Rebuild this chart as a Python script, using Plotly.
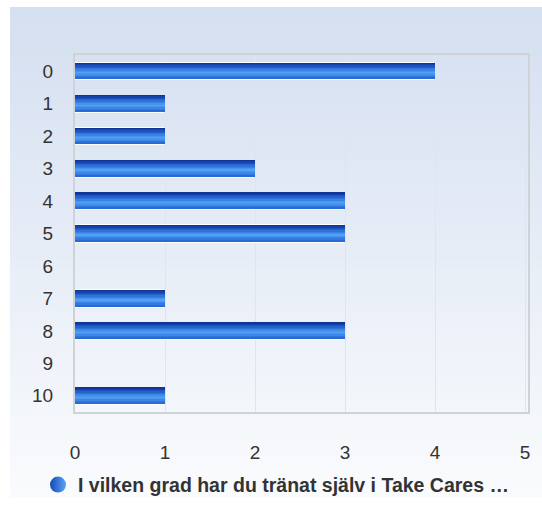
import plotly.graph_objects as go

categories = ["0", "1", "2", "3", "4", "5", "6", "7", "8", "9", "10"]
values = [4, 1, 1, 2, 3, 3, 0, 1, 3, 0, 1]
series_name = "I vilken grad har du tränat själv i Take Cares …"
x_ticks = [0, 1, 2, 3, 4, 5]

W, H = 542, 516
L, T = 75, 55
R = W - 528
B = H - 427
PW, PH = W - L - R, H - T - B
XMAX = PW / 90.0


def lerp(c1, c2, t):
    return tuple(round(a + (b - a) * t) for a, b in zip(c1, c2))


def px_to_paper(xs, ys):
    return (xs - L) / PW, (H - B - ys) / PH


fig = go.Figure()

# white outline bar
fig.add_trace(go.Bar(
    y=categories, x=values, orientation="h",
    width=0.56, offset=-0.28,
    marker=dict(color="rgba(255,255,255,0.95)", line=dict(width=0), cornerradius=3),
    showlegend=False, hoverinfo="skip",
))

# vertical gradient via thin strips (top -> bottom)
stops = [(0.0, (14, 44, 140)), (0.25, (30, 90, 200)), (0.62, (82, 162, 246)), (1.0, (36, 100, 210))]


def grad(t):
    for (t1, c1), (t2, c2) in zip(stops, stops[1:]):
        if t <= t2:
            return lerp(c1, c2, (t - t1) / (t2 - t1))
    return stops[-1][1]


N = 12
total = 0.5
sw = total / N
for i in range(N):
    c = grad((i + 0.5) / N)
    fig.add_trace(go.Bar(
        y=categories, x=values, orientation="h",
        width=sw * 1.05, offset=-total / 2 + i * sw,
        marker=dict(color="rgb(%d,%d,%d)" % c, line=dict(width=0)),
        showlegend=False, hoverinfo="skip",
    ))

# legend entry
fig.add_trace(go.Scatter(
    x=[None], y=[None], mode="markers", name=series_name,
    marker=dict(symbol="circle", size=19, color="#1848b8",
                gradient=dict(type="horizontal", color="#5aa4f5"),
                line=dict(width=0)),
))

# background gradient shapes
shapes = []
n_bands = 60
y_top, y_bot = 6, 516
x_left, x_right = 10, 542
for i in range(n_bands):
    ya = y_top + (y_bot - y_top) * i / n_bands
    yb = y_top + (y_bot - y_top) * (i + 1) / n_bands
    t = (i + 0.5) / n_bands
    c = lerp((212, 223, 240), (250, 251, 253), t)
    x0, y0 = px_to_paper(x_left, yb)
    x1, y1 = px_to_paper(x_right, ya)
    shapes.append(dict(type="rect", xref="paper", yref="paper",
                       x0=x0, x1=x1, y0=y0, y1=y1 + 0.003,
                       fillcolor="rgb(%d,%d,%d)" % c, line=dict(width=0),
                       layer="below"))

lx, ly = px_to_paper(276, 503)

fig.update_layout(
    width=W, height=H,
    margin=dict(l=L, r=R, t=T, b=B),
    paper_bgcolor="white",
    plot_bgcolor="rgba(0,0,0,0)",
    barmode="overlay",
    bargap=0,
    shapes=shapes,
    font=dict(family="Liberation Sans, Arial, sans-serif", color="#333333", size=19),
    showlegend=True,
    legend=dict(orientation="h", x=lx, xanchor="center", y=ly, yanchor="middle",
                font=dict(size=19.5, color="#333333", family="Liberation Sans, Arial, sans-serif", weight="bold"),
                bgcolor="rgba(0,0,0,0)", borderwidth=0),
    xaxis=dict(range=[0, XMAX], tickvals=x_ticks, showgrid=True, gridcolor="#e2e4e8", gridwidth=1,
               zeroline=False, showline=True, linecolor="#cfd2d6", linewidth=1.5, mirror=True,
               ticks="outside", ticklen=22, tickcolor="rgba(0,0,0,0)",
               tickfont=dict(size=19, color="#333333"), fixedrange=True),
    yaxis=dict(type="category", categoryorder="array", categoryarray=categories,
               autorange="reversed", showgrid=False, zeroline=False,
               showline=True, linecolor="#cfd2d6", linewidth=2, mirror=True,
               ticks="outside", ticklen=16, tickcolor="rgba(0,0,0,0)",
               tickfont=dict(size=19, color="#333333"), fixedrange=True),
)

fig.write_html(
    "out.html",
    config={"displayModeBar": False},
    post_script="document.documentElement.style.overflow='hidden';"
                "document.body.style.margin='0';document.body.style.overflow='hidden';",
)
